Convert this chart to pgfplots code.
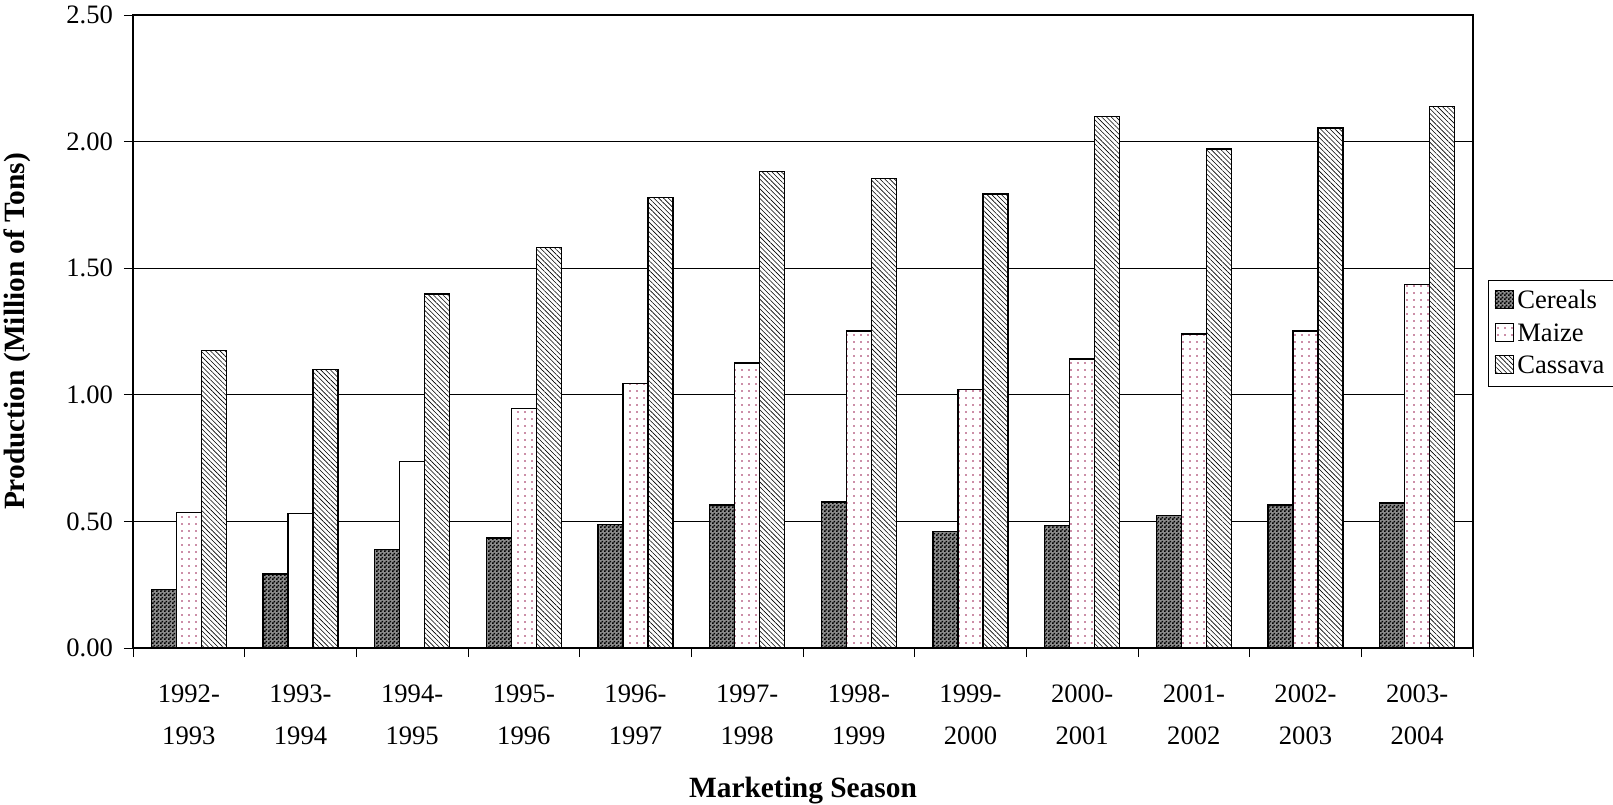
\documentclass[border=0pt]{standalone}
\usepackage{fontspec}
\setmainfont{Liberation Serif}
\usepackage{pgfplots}
\pgfplotsset{compat=1.18}
\usetikzlibrary{patterns,patterns.meta}
\pgfdeclarepatternformonly{checker}{\pgfpointorigin}{\pgfqpoint{2pt}{2pt}}{\pgfqpoint{2pt}{2pt}}{%
 \pgfpathrectangle{\pgfpointorigin}{\pgfqpoint{1pt}{1pt}}%
 \pgfpathrectangle{\pgfqpoint{1pt}{1pt}}{\pgfqpoint{1pt}{1pt}}%
 \pgfusepath{fill}}
\definecolor{dotred}{RGB}{153,30,80}
\pgfplotstableread{
x cereals maize cassava
1  0.232 0.536 1.174
2  0.293 0.532 1.100
3  0.390 0.736 1.398
4  0.435 0.947 1.581
5  0.488 1.045 1.780
6  0.565 1.126 1.882
7  0.577 1.252 1.854
8  0.459 1.020 1.793
9  0.484 1.142 2.100
10 0.524 1.240 1.971
11 0.565 1.252 2.054
12 0.573 1.435 2.139
}\datatable
\pgfplotstableread{
x maize
2  0.532
3  0.736
}\plaintable
\begin{document}
\begin{tikzpicture}
\useasboundingbox (0,0) rectangle (806.5pt,402pt);
\begin{axis}[
  at={(66.5pt,78pt)}, anchor=south west,
  scale only axis, width=670pt, height=316.5pt,
  xmin=0.5, xmax=12.5, ymin=0, ymax=2.5,
  ytick={0,0.5,...,2.5},
  xtick={0.5,1.5,...,12.5},
  xtick pos=bottom, ytick pos=left,
  x tick label as interval,
  xticklabels={{1992-\\1993},{1993-\\1994},{1994-\\1995},{1995-\\1996},{1996-\\1997},{1997-\\1998},{1998-\\1999},{1999-\\2000},{2000-\\2001},{2001-\\2002},{2002-\\2003},{2003-\\2004}},
  xticklabel style={align=center, font=\fontsize{13.3}{21}\selectfont, yshift=-10.5pt},
  yticklabel style={font=\fontsize{13.3}{16}\selectfont, xshift=-2pt},
  /pgf/number format/.cd, fixed, fixed zerofill, precision=2, assume math mode=true,
  /pgfplots/.cd,
  tick align=outside, major tick length=4.5pt,
  tick style={black, line width=0.5pt},
  ymajorgrids, grid style={black, line width=0.5pt},
  axis line style={black, line width=0.6pt},
  xlabel={\bfseries Marketing Season},
  ylabel={\bfseries Production (Million of Tons)},
  label style={font=\fontsize{14.7}{17}\selectfont},
  xlabel style={at={(axis description cs:0.5,-0.2245)}, anchor=center},
  ylabel style={at={(axis description cs:-0.0865,0.5)}, anchor=center},
  ybar, bar width=12.5pt,
  legend style={at={(1.0112,0.5813)}, anchor=north west, draw=black, line width=0.5pt,
    font=\fontsize{13.3}{15}\selectfont, row sep=1.8pt, inner xsep=3pt, inner ysep=3pt, cells={anchor=west}},
  legend image code/.code={\draw[#1, line width=0.4pt] (0pt,-3.5pt) rectangle (9pt,5.5pt);},
]
\addplot[bar shift=-12.5pt, draw=black, line width=0.7pt, fill=black!45, postaction={pattern=checker, pattern color=black}] table[x=x,y=cereals]{\datatable};
\addlegendentry{Cereals}
\addplot[bar shift=0pt, draw=black, line width=0.7pt, fill=white, postaction={pattern={Dots[radius=0.45pt, distance=3.5pt]}, pattern color=dotred}] table[x=x,y=maize]{\datatable};
\addlegendentry{Maize}
\addplot[bar shift=12.5pt, draw=black, line width=0.7pt, fill=white, postaction={pattern={Lines[angle=-45, distance=1.7pt, line width=0.3pt]}, pattern color=black}] table[x=x,y=cassava]{\datatable};
\addlegendentry{Cassava}
\addplot[forget plot, bar shift=0pt, draw=black, line width=0.7pt, fill=white] table[x=x,y=maize]{\plaintable};
\end{axis}
\end{tikzpicture}
\end{document}
